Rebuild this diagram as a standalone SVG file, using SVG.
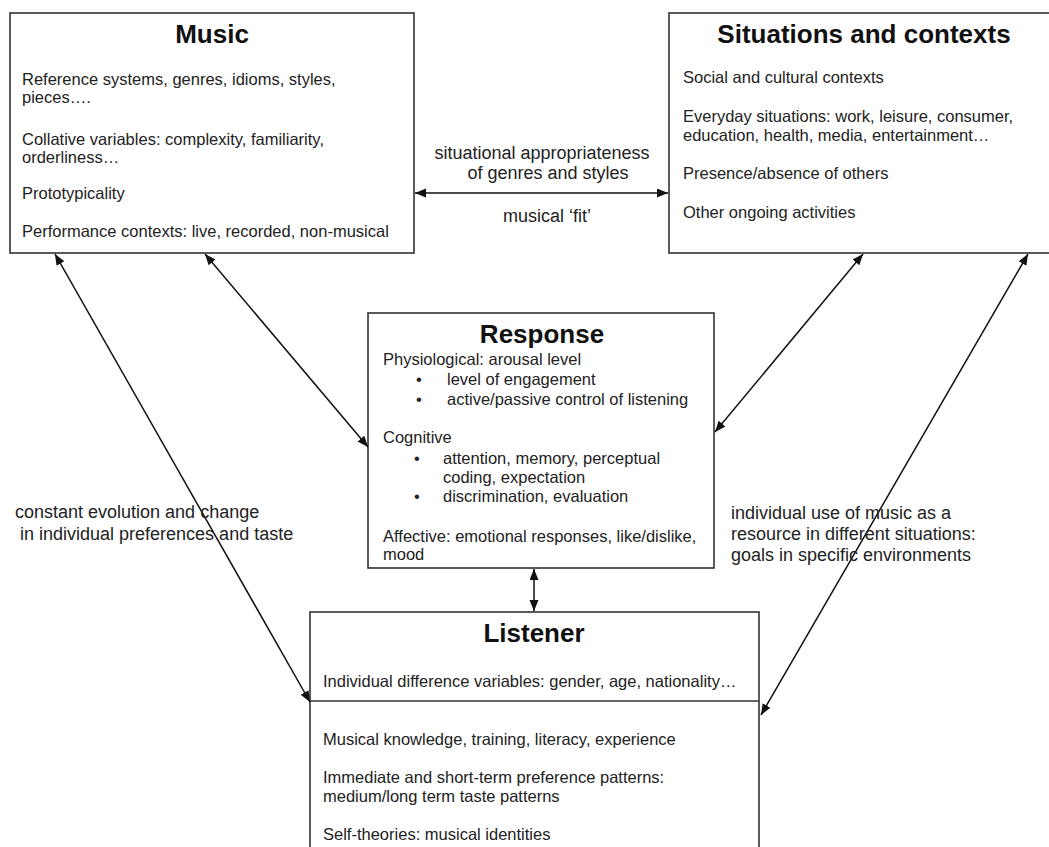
<svg xmlns="http://www.w3.org/2000/svg" width="1049" height="847" viewBox="0 0 1049 847">
<style>
.box{fill:#fff;stroke:#333;stroke-width:1.6}
.title{font-family:"Liberation Sans",Arial,sans-serif;font-weight:bold;font-size:26px;fill:#111;text-anchor:middle}
.t{font-family:"Liberation Sans",Arial,sans-serif;font-size:16.5px;fill:#222}
.lbl{font-family:"Liberation Sans",Arial,sans-serif;font-size:18px;fill:#222}
.c{text-anchor:middle}
.conn{stroke:#111;stroke-width:1.5;fill:none;marker-start:url(#ah);marker-end:url(#ah)}
</style>
<defs>
<marker id="ah" markerUnits="userSpaceOnUse" markerWidth="12" markerHeight="10" refX="11" refY="4.5" orient="auto-start-reverse">
<path d="M0,0 L11,4.5 L0,9 z" fill="#111"/>
</marker>
</defs>
<rect width="1049" height="847" fill="#fff"/>

<g id="music">
<rect class="box" x="10" y="13" width="404" height="240"/>
<text class="title" x="212" y="43">Music</text>
<text class="t" x="22" y="85">Reference systems, genres, idioms, styles,</text>
<text class="t" x="22" y="103">pieces….</text>
<text class="t" x="22" y="145">Collative variables: complexity, familiarity,</text>
<text class="t" x="22" y="163">orderliness…</text>
<text class="t" x="22" y="199">Prototypicality</text>
<text class="t" x="22" y="237">Performance contexts: live, recorded, non-musical</text>
</g>

<g id="situations">
<rect class="box" x="669" y="13" width="390" height="240"/>
<text class="title" x="864" y="43">Situations and contexts</text>
<text class="t" x="683" y="83">Social and cultural contexts</text>
<text class="t" x="683" y="122">Everyday situations: work, leisure, consumer,</text>
<text class="t" x="683" y="141">education, health, media, entertainment…</text>
<text class="t" x="683" y="179">Presence/absence of others</text>
<text class="t" x="683" y="218">Other ongoing activities</text>
</g>

<g id="response">
<rect class="box" x="368" y="313" width="346" height="255"/>
<text class="title" x="542" y="343">Response</text>
<text class="t" x="383" y="365">Physiological: arousal level</text>
<text class="t" x="416" y="385">•</text>
<text class="t" x="447" y="385">level of engagement</text>
<text class="t" x="416" y="405">•</text>
<text class="t" x="447" y="405">active/passive control of listening</text>
<text class="t" x="383" y="443">Cognitive</text>
<text class="t" x="414" y="464">•</text>
<text class="t" x="443" y="464">attention, memory, perceptual</text>
<text class="t" x="443" y="483">coding, expectation</text>
<text class="t" x="414" y="502">•</text>
<text class="t" x="443" y="502">discrimination, evaluation</text>
<text class="t" x="383" y="542">Affective: emotional responses, like/dislike,</text>
<text class="t" x="383" y="560">mood</text>
</g>

<g id="listener">
<rect class="box" x="310" y="612" width="449" height="250"/>
<line x1="310" y1="701" x2="759" y2="701" stroke="#333" stroke-width="1.6"/>
<text class="title" x="534" y="642">Listener</text>
<text class="t" x="323" y="687">Individual difference variables: gender, age, nationality…</text>
<text class="t" x="323" y="745">Musical knowledge, training, literacy, experience</text>
<text class="t" x="323" y="783">Immediate and short-term preference patterns:</text>
<text class="t" x="323" y="802">medium/long term taste patterns</text>
<text class="t" x="323" y="840">Self-theories: musical identities</text>
</g>

<g id="connectors">
<line class="conn" x1="415" y1="193" x2="668" y2="193"/>
<line class="conn" x1="55" y1="254" x2="310" y2="702"/>
<line class="conn" x1="205" y1="254" x2="368" y2="447"/>
<line class="conn" x1="863" y1="254" x2="715" y2="432"/>
<line class="conn" x1="1028" y1="254" x2="761" y2="715"/>
<line class="conn" x1="534" y1="569" x2="534" y2="611"/>
</g>

<g id="labels">
<text class="lbl c" x="542" y="159">situational appropriateness</text>
<text class="lbl c" x="548" y="179">of genres and styles</text>
<text class="lbl c" x="547" y="222">musical ‘fit’</text>
<text class="lbl" x="15" y="518">constant evolution and change</text>
<text class="lbl" x="20" y="540">in individual preferences and taste</text>
<text class="lbl" x="731" y="519">individual use of music as a</text>
<text class="lbl" x="731" y="540">resource in different situations:</text>
<text class="lbl" x="731" y="561">goals in specific environments</text>
</g>
</svg>
